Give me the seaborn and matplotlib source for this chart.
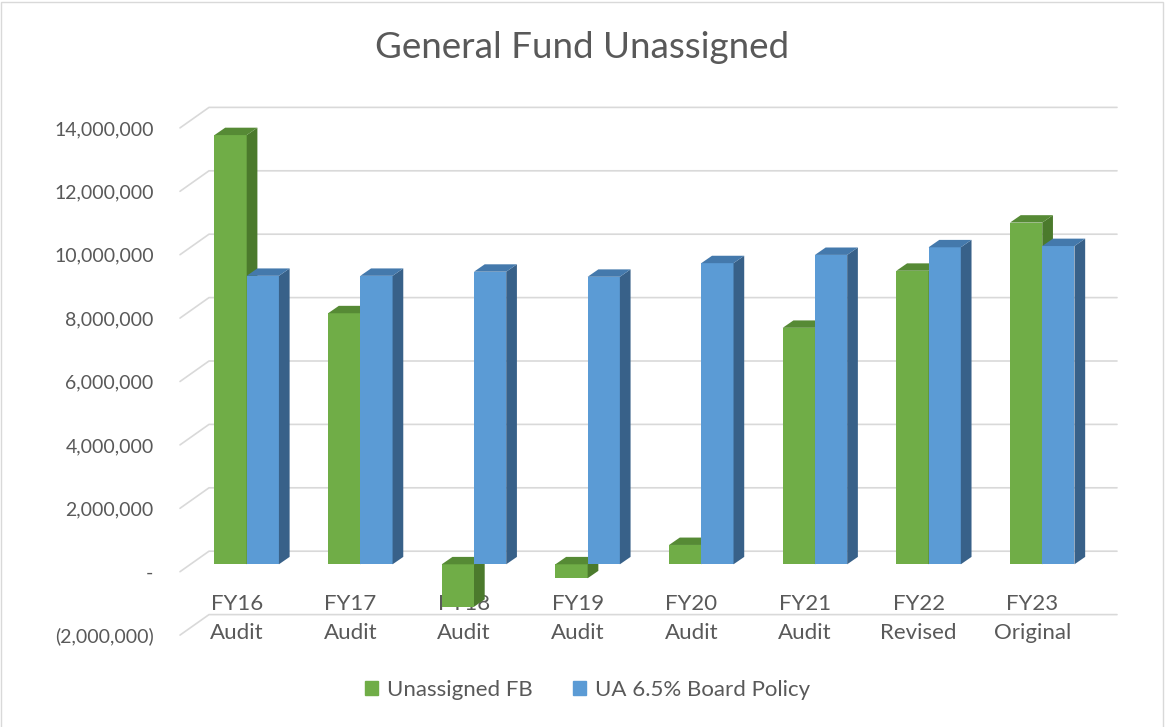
import numpy as np
import pandas as pd
import matplotlib
matplotlib.use("Agg")
import matplotlib.pyplot as plt
from matplotlib.patches import Polygon, Patch, Rectangle
import seaborn as sns

# datos
years = ["FY16", "FY17", "FY18", "FY19", "FY20", "FY21", "FY22", "FY23"]
stages = ["Audit", "Audit", "Audit", "Audit", "Audit", "Audit", "Revised", "Original"]
unassigned_fb = [13540000, 7920000, -1340000, -440000, 610000, 7460000, 9260000, 10780000]
board_policy = [9100000, 9100000, 9230000, 9070000, 9500000, 9760000, 10000000, 10040000]
series_names = ["Unassigned FB", "UA 6.5% Board Policy"]
y_ticks = [-2000000, 0, 2000000, 4000000, 6000000, 8000000, 10000000, 12000000, 14000000]
y_tick_labels = ["(2,000,000)", "-", "2,000,000", "4,000,000", "6,000,000",
                 "8,000,000", "10,000,000", "12,000,000", "14,000,000"]

df = pd.DataFrame({
    "year": years * 2,
    "value": unassigned_fb + board_policy,
    "series": [series_names[0]] * len(years) + [series_names[1]] * len(years),
})

green, blue = "#70AD47", "#5B9BD5"
side_cols = ["#4B7A2C", "#386189"]
top_cols = ["#568A35", "#4479AC"]
grid_col = "#D9D9D9"
text_col = "#595959"

sns.set_style("white")
plt.rcParams["font.family"] = ["Lato", "DejaVu Sans"]

# escala en pixeles (plano frontal de las barras)
W, H = 1166, 727
PX_CAT, PX_M = 113.65, 31.7
X0, Y0 = 246.7, 564.3


def dx(px):
    return px / PX_CAT


def dy(px):
    return px / PX_M * 1e6


fig = plt.figure(figsize=(W / 100, H / 100), dpi=100)
left_px, right_px, top_px, bot_px = 180, 1117, 90, 650
ax = fig.add_axes([left_px / W, 1 - bot_px / H, (right_px - left_px) / W, (bot_px - top_px) / H])

sns.barplot(data=df, x="year", y="value", hue="series", order=years,
            hue_order=series_names, palette=[green, blue], width=0.567,
            saturation=1, linewidth=0, errorbar=None, legend=False, ax=ax)

xl = (dx(left_px - X0), dx(right_px - X0))
yl = (dy(Y0 - bot_px), dy(Y0 - top_px))
ax.set_xlim(xl)
ax.set_ylim(yl)

# caras laterales y superiores (efecto 3D)
depth = (dx(10.7), dy(7.4))
for k, cont in enumerate(ax.containers):
    for p in cont:
        x0, w = p.get_x(), p.get_width()
        b = min(p.get_y(), p.get_y() + p.get_height())
        t = max(p.get_y(), p.get_y() + p.get_height())
        p.set_zorder(2 + k)
        side = [(x0 + w, b), (x0 + w + depth[0], b + depth[1]),
                (x0 + w + depth[0], t + depth[1]), (x0 + w, t)]
        top = [(x0, t), (x0 + depth[0], t + depth[1]),
               (x0 + w + depth[0], t + depth[1]), (x0 + w, t)]
        ax.add_patch(Polygon(side, closed=True, fc=side_cols[k], ec="none", zorder=2.1 + k))
        ax.add_patch(Polygon(top, closed=True, fc=top_cols[k], ec="none", zorder=2.1 + k))

# rejilla: pared del fondo + diagonal lateral
front_off = (dx(-10), dy(-7.4))
slant = (dx(29), dy(20.5))
for v in y_ticks:
    yf = v + front_off[1]
    ax.plot([xl[0], xl[0] + slant[0], xl[1]], [yf, yf + slant[1], yf + slant[1]],
            color=grid_col, lw=1.2, zorder=0, clip_on=False)

ax.set_yticks(np.array(y_ticks) + front_off[1], labels=y_tick_labels)
ax.tick_params(axis="y", length=0, pad=19, labelsize=14, labelcolor=text_col)
ax.set_xticks([])
ax.set_xlabel("")
ax.set_ylabel("")
for s in ax.spines.values():
    s.set_visible(False)

for i, (yr, st) in enumerate(zip(years, stages)):
    ax.text(i + front_off[0], dy(Y0 - 610), yr, ha="center", va="baseline",
            fontsize=16, color=text_col, zorder=1)
    ax.text(i + front_off[0], dy(Y0 - 639), st, ha="center", va="baseline",
            fontsize=16, color=text_col, zorder=1)

fig.text(582.5 / W, 1 - 47 / H, "General Fund Unassigned", ha="center", va="center",
         fontsize=26.5, color=text_col)

handles = [Patch(color=green), Patch(color=blue)]
fig.legend(handles, series_names, loc="center", bbox_to_anchor=(587.5 / W, 1 - 690 / H),
           ncol=2, frameon=False, fontsize=16, labelcolor=text_col,
           handlelength=0.6, handleheight=0.6, handletextpad=0.4, columnspacing=1.8)

fig.patches.append(Rectangle((1 / W, -0.01), 1162 / W, 1.01 - 2 / H, transform=fig.transFigure,
                             fill=False, ec=grid_col, lw=1))

fig.savefig("out.png", dpi=100)
